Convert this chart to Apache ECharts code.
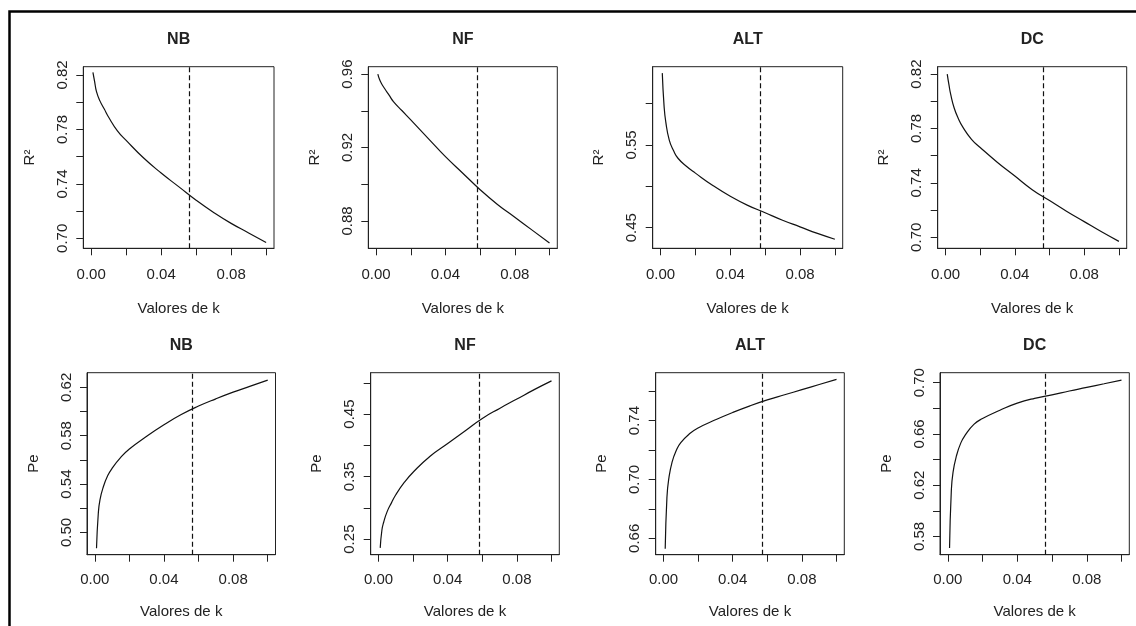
<!DOCTYPE html>
<html>
<head>
<meta charset="utf-8">
<script src="https://cdn.jsdelivr.net/npm/echarts@6/dist/echarts.min.js"></script>
<style>
  html, body { margin: 0; padding: 0; background: #fff; }
  #chart { width: 1136px; height: 626px; }
</style>
</head>
<body>
<div id="chart"></div>
<script>
// valores de k (eixo x comum)
var kValues = [0.001, 0.002, 0.003, 0.005, 0.0075, 0.01, 0.015, 0.02, 0.03, 0.04, 0.05, 0.06, 0.07, 0.08, 0.09, 0.1];

// R² por variavel
var r2NB  = [0.822, 0.815, 0.808, 0.801, 0.795, 0.789, 0.779, 0.772, 0.759, 0.748, 0.738, 0.728, 0.719, 0.711, 0.704, 0.697];
var r2NF  = [0.960, 0.957, 0.955, 0.952, 0.9485, 0.945, 0.940, 0.935, 0.925, 0.915, 0.906, 0.897, 0.889, 0.882, 0.875, 0.868];
var r2ALT = [0.637, 0.598, 0.578, 0.556, 0.543, 0.534, 0.524, 0.516, 0.501, 0.488, 0.477, 0.468, 0.459, 0.451, 0.443, 0.436];
var r2DC  = [0.820, 0.812, 0.805, 0.795, 0.787, 0.781, 0.772, 0.766, 0.755, 0.745, 0.735, 0.727, 0.719, 0.7115, 0.704, 0.697];

// Pe por variavel
var peNB  = [0.487, 0.515, 0.527, 0.538, 0.547, 0.553, 0.562, 0.569, 0.5795, 0.589, 0.5975, 0.6045, 0.6105, 0.616, 0.621, 0.626];
var peNF  = [0.236, 0.265, 0.277, 0.294, 0.308, 0.321, 0.341, 0.357, 0.383, 0.403, 0.423, 0.443, 0.459, 0.474, 0.489, 0.503];
var peALT = [0.653, 0.688, 0.700, 0.712, 0.720, 0.725, 0.731, 0.735, 0.7405, 0.7455, 0.750, 0.754, 0.7575, 0.761, 0.7645, 0.768];
var peDC  = [0.571, 0.615, 0.630, 0.643, 0.653, 0.659, 0.6675, 0.672, 0.6785, 0.684, 0.6878, 0.6905, 0.6935, 0.6963, 0.6992, 0.702];

var names = ['NB', 'NF', 'ALT', 'DC'];
var kOpt = [0.0563, 0.0585, 0.0570, 0.0562];   // linha tracejada

var xTicks  = [0, 0.02, 0.04, 0.06, 0.08, 0.1];
var xLabels = [0, 0.04, 0.08];

var yTicks = [
  [0.70, 0.72, 0.74, 0.76, 0.78, 0.80, 0.82],
  [0.88, 0.90, 0.92, 0.94, 0.96],
  [0.45, 0.50, 0.55, 0.60],
  [0.70, 0.72, 0.74, 0.76, 0.78, 0.80, 0.82],
  [0.50, 0.52, 0.54, 0.56, 0.58, 0.60, 0.62],
  [0.25, 0.30, 0.35, 0.40, 0.45, 0.50],
  [0.66, 0.68, 0.70, 0.72, 0.74, 0.76],
  [0.58, 0.60, 0.62, 0.64, 0.66, 0.68, 0.70]
];
var yLabels = [
  [0.70, 0.74, 0.78, 0.82],
  [0.88, 0.92, 0.96],
  [0.45, 0.55],
  [0.70, 0.74, 0.78, 0.82],
  [0.50, 0.54, 0.58, 0.62],
  [0.25, 0.35, 0.45],
  [0.66, 0.70, 0.74],
  [0.58, 0.62, 0.66, 0.70]
];
var yMin = [0.6927, 0.8651, 0.4250, 0.6919, 0.4816, 0.2251, 0.6489, 0.5657];
var yMax = [0.8261, 0.9640, 0.6448, 0.8254, 0.6321, 0.5161, 0.7725, 0.7078];

var chart = echarts.init(document.getElementById('chart'));

var font = 'Liberation Sans, Arial, sans-serif';
var ink = '#222';
var fmt2 = function (v) { return Number(v).toFixed(2); };

var rowsData = [[r2NB, r2NF, r2ALT, r2DC], [peNB, peNF, peALT, peDC]];
var yNames = ['R²', 'Pe'];
var tops = [66.7, 372.7];
var heights = [181.6, 182];
var lefts = [[83.3, 368.3, 652.7, 937.7], [87, 370.7, 655.7, 940]];
var widths = [[190.7, 189, 190, 189], [188.5, 188.6, 188.6, 189.3]];
var xLabMargin = [19, 18];
var xNameGap = [53, 50];

var grids = [], xAxes = [], yAxes = [], series = [], titles = [];

for (var r = 0; r < 2; r++) {
  for (var c = 0; c < 4; c++) {
    var i = r * 4 + c;
    grids.push({
      left: lefts[r][c], top: tops[r], width: widths[r][c], height: heights[r],
      show: true, borderColor: '#222', borderWidth: 1, backgroundColor: 'transparent',
      containLabel: false, outerBoundsMode: 'none'
    });
    titles.push({
      text: names[c],
      left: lefts[r][c] + widths[r][c] / 2,
      top: tops[r] - 35,
      textAlign: 'center',
      padding: 0,
      textStyle: { fontFamily: font, fontSize: 16, fontWeight: 'bold', color: ink }
    });
    xAxes.push({
      gridIndex: i, type: 'value', min: -0.0045, max: 0.1045,
      axisLine: { show: true, onZero: false, lineStyle: { color: '#222', width: 1 } },
      axisTick: { show: true, inside: false, length: 7, lineStyle: { color: '#222' }, customValues: xTicks },
      axisLabel: { customValues: xLabels, formatter: fmt2, margin: xLabMargin[r],
        color: ink, fontSize: 15, fontFamily: font },
      splitLine: { show: false },
      name: 'Valores de k', nameLocation: 'middle', nameGap: xNameGap[r], nameMoveOverlap: false,
      nameTextStyle: { color: ink, fontSize: 15, fontFamily: font }
    });
    yAxes.push({
      gridIndex: i, type: 'value', min: yMin[i], max: yMax[i],
      axisLine: { show: true, onZero: false, lineStyle: { color: '#222', width: 1 } },
      axisTick: { show: true, inside: false, length: 7, lineStyle: { color: '#222' }, customValues: yTicks[i] },
      axisLabel: { customValues: yLabels[i], formatter: fmt2, rotate: 90, margin: 13,
        color: ink, fontSize: 15, fontFamily: font },
      splitLine: { show: false },
      name: yNames[r], nameLocation: 'middle', nameGap: 46, nameRotate: 90, nameMoveOverlap: false,
      nameTextStyle: { color: ink, fontSize: 15, fontFamily: font }
    });
    var vals = rowsData[r][c];
    series.push({
      type: 'line', xAxisIndex: i, yAxisIndex: i,
      data: kValues.map(function (k, j) { return [k, vals[j]]; }),
      showSymbol: false, smooth: 0.5,
      lineStyle: { color: '#111', width: 1.2 },
      markLine: {
        silent: true, symbol: ['none', 'none'], label: { show: false }, precision: 5,
        lineStyle: { type: [5, 3], color: '#111', width: 1.2 },
        data: [{ xAxis: kOpt[c] }]
      }
    });
  }
}

var option = {
  animation: false,
  backgroundColor: '#fff',
  title: titles,
  grid: grids,
  xAxis: xAxes,
  yAxis: yAxes,
  series: series,
  graphic: [{
    type: 'rect', silent: true,
    shape: { x: 9.5, y: 11.5, width: 1300, height: 800 },
    style: { fill: 'none', stroke: '#000', lineWidth: 2.5 }
  }]
};

chart.setOption(option);

window.addEventListener('resize', function () {
  chart.resize();
});
</script>
</body>
</html>
